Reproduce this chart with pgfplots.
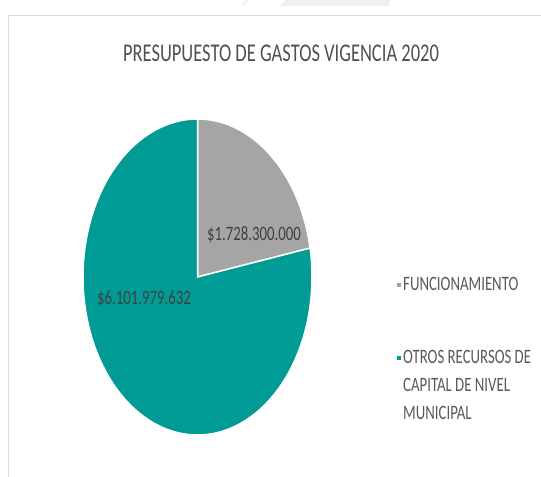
\documentclass[border=0pt]{standalone}
\usepackage{pgfplots}
\pgfplotsset{compat=1.18}
\usepackage{pgfplotstable}
\usepackage{fontspec}
\setmainfont{Carlito}
\usepackage{graphicx}
\definecolor{pieteal}{HTML}{009B95}
\definecolor{piegray}{HTML}{A5A5A5}
\definecolor{titlegray}{HTML}{505050}
\definecolor{legendgray}{HTML}{595959}
\definecolor{labelgray}{HTML}{404040}
\definecolor{framegray}{HTML}{D9D9D9}

% values in millions of pesos
\pgfplotstableread{
label value
Funcionamiento 1728.300000
Otros 6101.979632
}\piedata
\pgfplotstablegetelem{0}{value}\of\piedata \let\va\pgfplotsretval
\pgfplotstablegetelem{1}{value}\of\piedata \let\vb\pgfplotsretval
\pgfmathsetmacro\fracA{\va/(\va+\vb)}
\pgfmathsetmacro\angA{360*\fracA}
\newcommand\vs[1]{\scalebox{1}[1.38]{#1}}

\begin{document}
\begin{tikzpicture}[x=1bp,y=1bp]
\useasboundingbox (0,0) rectangle (541,477);
\fill[black!6] (286,477) -- (390,477) -- (389,471) -- (279,471) -- cycle;
\fill[black!6] (246,477) -- (249,477) -- (244,472) -- (241,472) -- cycle;
\draw[framegray, line width=1bp] (8.5,0) -- (8.5,461.5) -- (541,461.5);
\node[text=titlegray, font=\fontsize{18.5bp}{22bp}\selectfont] at (281,424) {\vs{PRESUPUESTO DE GASTOS VIGENCIA 2020}};
\begin{axis}[
  at={(197.5bp,200bp)}, anchor=origin,
  scale only axis, width=229bp, height=316bp,
  xmin=-1, xmax=1, ymin=-1, ymax=1,
  hide axis, clip=false,
  legend image code/.code={\fill[#1, draw=none] (0,3.45bp) rectangle (4.5bp,7.95bp);},
  legend style={draw=none, fill=none, inner sep=0pt, outer sep=0pt,
    at={(1.370,0.5177)}, anchor=north west,
    row sep=52.4bp, column sep=2bp,
    cells={anchor=base west},
    nodes={inner sep=0pt, text=legendgray},
    font=\fontsize{14.8bp}{20bp}\selectfont},
]
\addplot[fill=piegray, draw=white, line width=1.5bp, domain=0:\angA, samples=80, variable=\t]
  ({cos(90-\t)},{sin(90-\t)}) -- (axis cs:0,0) -- cycle;
\addlegendentry{\vs{\begin{tabular}[t]{@{}l@{}}FUNCIONAMIENTO\end{tabular}}}
\addplot[fill=pieteal, draw=white, line width=1.5bp, domain=\angA:360, samples=200, variable=\t]
  ({cos(90-\t)},{sin(90-\t)}) -- (axis cs:0,0) -- cycle;
\addlegendentry{\vs{\begin{tabular}[t]{@{}l@{}}OTROS RECURSOS DE\\CAPITAL DE NIVEL\\MUNICIPAL\end{tabular}}}
\node[text=labelgray, font=\fontsize{14.8bp}{16bp}\selectfont] at (axis cs:0.493,0.269) {\vs{\$1.728.300.000}};
\node[text=labelgray, font=\fontsize{14.8bp}{16bp}\selectfont] at (axis cs:-0.467,-0.139) {\vs{\$6.101.979.632}};
\end{axis}
\end{tikzpicture}
\end{document}
